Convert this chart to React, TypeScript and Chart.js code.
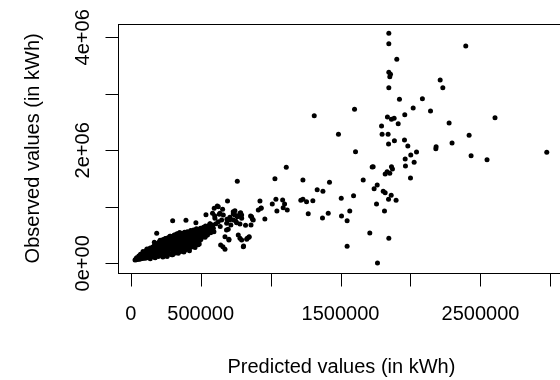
import React, { useEffect, useRef } from "react";
import { Chart, registerables } from "chart.js";

Chart.register(...registerables);

// [predicted, observed] in kWh
const lowUsage: number[][] = [
  [31000, 58000], [36000, 72000], [40000, 62000], [44000, 85000], [48000, 70000], [52000, 95000], [56000, 78000], [60000, 110000], [42000, 100000], [58000, 130000],
  [63000, 70000], [66000, 90000], [69000, 120000], [72000, 80000], [75000, 140000], [78000, 100000], [81000, 160000], [84000, 85000], [87000, 130000], [90000, 180000],
  [93000, 110000], [96000, 150000], [99000, 90000], [70000, 160000], [88000, 210000],
  [102000, 120000], [104000, 200000], [107000, 160000], [110000, 95000], [113000, 230000], [116000, 140000], [119000, 190000], [122000, 110000], [125000, 250000],
  [128000, 170000], [131000, 130000], [134000, 220000], [137000, 100000], [140000, 270000], [143000, 180000], [146000, 140000], [149000, 240000],
  [152000, 200000], [155000, 120000], [158000, 290000], [161000, 160000], [164000, 240000], [167000, 110000], [170000, 320000], [173000, 190000], [176000, 260000],
  [179000, 140000], [182000, 300000], [185000, 210000], [188000, 350000], [191000, 170000], [194000, 270000], [197000, 120000], [199000, 320000],
  [202000, 230000], [205000, 380000], [208000, 160000], [211000, 290000], [214000, 340000], [217000, 200000], [220000, 400000], [223000, 260000], [226000, 130000],
  [229000, 330000], [232000, 420000], [235000, 210000], [238000, 300000], [241000, 370000], [244000, 150000], [247000, 260000], [249000, 440000],
  [252000, 330000], [255000, 200000], [258000, 390000], [261000, 140000], [264000, 280000], [267000, 450000], [270000, 230000], [273000, 350000], [276000, 170000],
  [279000, 410000], [282000, 300000], [285000, 480000], [288000, 250000], [291000, 370000], [294000, 150000], [297000, 320000], [299000, 450000],
  [302000, 210000], [305000, 400000], [308000, 280000], [311000, 500000], [314000, 180000], [317000, 350000], [320000, 440000], [323000, 250000], [326000, 390000],
  [329000, 520000], [332000, 300000], [335000, 190000], [338000, 460000], [341000, 360000], [344000, 240000], [347000, 420000], [349000, 540000],
  [352000, 290000], [355000, 470000], [358000, 210000], [361000, 380000], [364000, 530000], [367000, 330000], [370000, 440000], [373000, 250000], [376000, 500000],
  [379000, 400000], [382000, 300000], [385000, 550000], [388000, 230000], [391000, 450000], [394000, 350000], [397000, 510000], [399000, 270000],
  [402000, 420000], [405000, 560000], [408000, 300000], [411000, 480000], [414000, 380000], [417000, 250000], [420000, 530000], [423000, 440000], [426000, 340000],
  [429000, 580000], [432000, 480000], [435000, 290000], [438000, 400000], [441000, 540000], [444000, 460000], [447000, 360000], [449000, 590000],
  [452000, 300000], [455000, 500000], [458000, 420000], [461000, 570000], [464000, 360000], [467000, 470000], [470000, 610000], [473000, 390000], [476000, 530000],
  [479000, 450000], [482000, 330000], [485000, 590000], [488000, 490000], [491000, 400000], [494000, 560000], [497000, 460000], [499000, 620000],
  [502000, 420000], [505000, 520000], [508000, 600000], [511000, 470000], [514000, 560000], [517000, 480000], [520000, 640000], [523000, 470000], [526000, 540000],
  [529000, 600000], [532000, 460000], [535000, 660000], [538000, 520000], [541000, 580000], [544000, 500000], [547000, 630000], [549000, 500000],
  [552000, 570000], [556000, 660000], [560000, 540000], [563000, 610000], [567000, 700000], [571000, 540000], [575000, 640000], [579000, 590000], [583000, 560000],
  [587000, 680000], [591000, 620000], [595000, 560000],
  [160000, 210000], [180000, 250000], [200000, 280000], [220000, 300000], [240000, 340000], [260000, 350000], [280000, 370000], [300000, 360000], [320000, 400000],
  [340000, 410000], [360000, 420000], [380000, 450000], [400000, 460000], [420000, 480000], [440000, 500000], [165000, 180000], [185000, 230000], [205000, 250000],
  [225000, 280000], [245000, 310000], [265000, 320000], [285000, 340000], [305000, 330000], [325000, 370000], [345000, 380000], [365000, 390000], [385000, 420000],
  [405000, 430000], [425000, 460000], [445000, 470000], [465000, 520000], [485000, 540000], [505000, 560000], [525000, 580000], [120000, 150000], [135000, 170000],
  [150000, 190000], [110000, 130000], [95000, 120000], [80000, 110000],
  [140000, 80000], [175000, 100000], [230000, 110000], [260000, 120000], [300000, 150000], [340000, 180000], [380000, 200000], [420000, 220000], [460000, 280000], [490000, 340000],
  [116000, 253000], [259000, 430000], [331000, 519000], [424000, 554000], [495000, 607000], [566000, 696000], [210000, 410000], [280000, 480000], [350000, 540000], [470000, 600000],
  [169000, 372000], [186000, 531000], [247000, 435000], [300000, 754000], [395000, 761000], [466000, 719000], [538000, 861000],
];

const midUsage: number[][] = [
  [1031000, 1498000], [762000, 1450000], [692000, 1103000], [924000, 1103000], [1038000, 1132000], [1012000, 1050000], [1045000, 926000], [912000, 943000],
  [931000, 973000], [959000, 784000], [619000, 1014000], [657000, 955000], [597000, 973000], [638000, 885000], [662000, 855000], [585000, 885000],
  [602000, 796000], [626000, 737000], [733000, 913000], [745000, 855000], [762000, 825000], [781000, 885000], [793000, 796000], [733000, 766000],
  [757000, 718000], [704000, 766000], [716000, 678000], [685000, 590000], [702000, 425000], [659000, 294000], [674000, 247000], [643000, 324000],
  [769000, 501000], [781000, 442000], [807000, 306000], [829000, 425000], [845000, 460000], [821000, 672000], [864000, 825000], [876000, 766000],
  [860000, 678000], [933000, 978000], [745000, 931000], [786000, 896000], [733000, 873000], [769000, 837000], [793000, 855000], [709000, 796000],
  [752000, 743000], [781000, 696000], [857000, 837000], [871000, 778000], [697000, 601000], [686000, 707000], [793000, 412000], [833000, 442000],
  [847000, 471000], [805000, 294000], [702000, 412000], [674000, 471000], [626000, 1002000], [633000, 867000], [709000, 814000], [688000, 779000],
  [650000, 766000], [610000, 700000], [640000, 650000], [600000, 840000],
];

const highUsage: number[][] = [
  [1845000, 4070000], [1845000, 3887000], [2395000, 3846000], [1902000, 3610000], [1845000, 3380000], [1857000, 3345000], [1852000, 3303000], [1845000, 3108000],
  [2212000, 3244000], [2231000, 3108000], [1921000, 2902000], [2085000, 2914000], [1600000, 2725000], [2019000, 2749000], [2143000, 2695000], [1312000, 2613000],
  [2604000, 2577000], [1835000, 2589000], [1864000, 2548000], [1883000, 2566000], [1959000, 2631000], [1912000, 2471000], [2276000, 2483000], [1793000, 2430000],
  [1797000, 2283000], [1840000, 2283000], [1485000, 2283000], [2419000, 2265000], [1885000, 2170000], [1843000, 2111000], [1957000, 2182000], [1981000, 2076000],
  [2183000, 2064000], [2181000, 2029000], [2297000, 2129000], [2433000, 1905000], [2547000, 1834000], [2974000, 1964000], [1607000, 1976000], [2043000, 1970000],
  [2002000, 1917000], [1962000, 1846000], [2026000, 1787000], [1964000, 1722000], [1733000, 1710000], [1726000, 1704000], [1864000, 1710000], [1871000, 1669000],
  [1833000, 1622000], [1819000, 1580000], [1852000, 1592000], [2000000, 1510000], [1112000, 1698000], [1662000, 1474000], [1231000, 1474000], [1421000, 1433000],
  [1762000, 1386000], [1740000, 1321000], [1333000, 1303000], [1374000, 1274000], [1805000, 1274000], [1819000, 1250000], [1862000, 1203000], [1593000, 1197000],
  [1505000, 1150000], [1843000, 1132000], [1897000, 1115000], [1757000, 1050000], [1086000, 1120000], [1100000, 1050000], [1090000, 985000], [1119000, 943000],
  [1216000, 1115000], [1231000, 1132000], [1257000, 1091000], [1302000, 1109000], [1269000, 879000], [1371000, 802000], [1412000, 884000], [1507000, 837000],
  [1547000, 755000], [1566000, 926000], [1814000, 926000], [1709000, 536000], [1845000, 442000], [1547000, 300000], [1764000, 5000],
];

const xTickValues = [0, 500000, 1000000, 1500000, 2000000, 2500000, 3000000];
const xTickLabels = ["0", "500000", "", "1500000", "", "2500000", ""];
const yTickValues = [0, 1000000, 2000000, 3000000, 4000000];
const yTickLabels = ["0e+00", "", "2e+06", "", "4e+06"];
const xTitle = "Predicted values (in kWh)";
const yTitle = "Observed values (in kWh)";
const xRange = [-81400, 3093600];
const yRange = [-166400, 4235400];

const FONT = '20px "Liberation Sans", Arial, sans-serif';

const baseAxes = {
  id: "baseAxes",
  afterDraw(chart: any) {
    const { ctx, chartArea: a, scales } = chart;
    const xs = scales.x;
    const ys = scales.y;
    ctx.save();
    ctx.strokeStyle = "#000";
    ctx.lineWidth = 1;
    const L = Math.round(a.left) - 0.5;
    const T = Math.round(a.top) + 0.5;
    const R = Math.round(a.right) - 0.5;
    const B = Math.round(a.bottom) + 0.5;
    ctx.strokeRect(L, T, R - L, B - T);
    ctx.beginPath();
    xTickValues.forEach((v) => {
      const px = Math.round(xs.getPixelForValue(v)) + 0.5;
      ctx.moveTo(px, B);
      ctx.lineTo(px, B + 13);
    });
    yTickValues.forEach((v) => {
      const py = Math.round(ys.getPixelForValue(v)) + 0.5;
      ctx.moveTo(L, py);
      ctx.lineTo(L - 13, py);
    });
    ctx.stroke();

    ctx.fillStyle = "#000";
    ctx.font = FONT;
    ctx.textAlign = "center";
    ctx.textBaseline = "alphabetic";
    xTickValues.forEach((v, i) => {
      if (xTickLabels[i]) ctx.fillText(xTickLabels[i], xs.getPixelForValue(v), 320);
    });
    ctx.fillText(xTitle, (a.left + a.right) / 2, 373);
    yTickValues.forEach((v, i) => {
      if (!yTickLabels[i]) return;
      ctx.save();
      ctx.translate(89, ys.getPixelForValue(v));
      ctx.rotate(-Math.PI / 2);
      ctx.fillText(yTickLabels[i], 0, 0);
      ctx.restore();
    });
    ctx.save();
    ctx.translate(38.5, (a.top + a.bottom) / 2);
    ctx.rotate(-Math.PI / 2);
    ctx.fillText(yTitle, 0, 0);
    ctx.restore();
    ctx.restore();
  },
};

export default function App() {
  const ref = useRef<HTMLCanvasElement | null>(null);
  useEffect(() => {
    if (!ref.current) return;
    const points = [...lowUsage, ...midUsage, ...highUsage].map(([x, y]) => ({ x, y }));
    const chart = new Chart(ref.current, {
      type: "scatter",
      data: {
        datasets: [
          {
            data: points,
            pointRadius: 2.5,
            pointHoverRadius: 2.5,
            pointBackgroundColor: "#000",
            pointBorderWidth: 0,
            borderWidth: 0,
          },
        ],
      },
      options: {
        animation: false,
        responsive: false,
        maintainAspectRatio: false,
        devicePixelRatio: 1,
        layout: { padding: { left: 119.3, top: 24, right: 2, bottom: 107.3 } },
        plugins: { legend: { display: false }, tooltip: { enabled: false } },
        events: [],
        scales: {
          x: { type: "linear", min: xRange[0], max: xRange[1], display: false },
          y: { type: "linear", min: yRange[0], max: yRange[1], display: false },
        },
      },
      plugins: [baseAxes],
    });
    return () => chart.destroy();
  }, []);
  return (
    <div style={{ position: "fixed", left: 0, top: 0, width: 560, height: 380, overflow: "hidden", background: "#fff" }}>
      <canvas ref={ref} width={566} height={380} style={{ display: "block", width: 566, height: 380 }} />
    </div>
  );
}
